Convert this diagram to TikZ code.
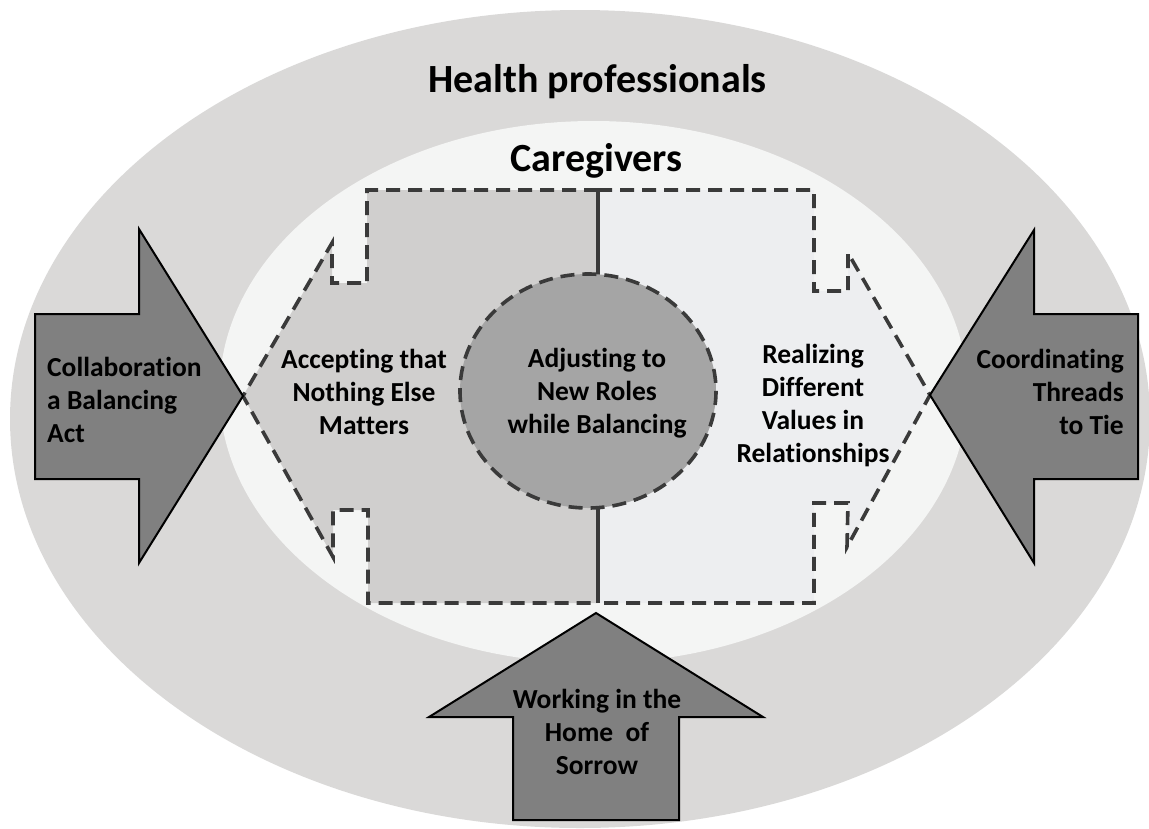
\documentclass[tikz,border=0pt]{standalone}
\usepackage{fontspec}
\setmainfont[Ligatures=NoCommon]{Carlito}
\definecolor{outerc}{HTML}{DAD9D8}
\definecolor{innerc}{HTML}{F4F5F4}
\definecolor{leftc}{HTML}{D0CFCE}
\definecolor{rightc}{HTML}{EDEEF0}
\definecolor{circc}{HTML}{A5A5A5}
\definecolor{arrowc}{HTML}{808080}
\definecolor{dashc}{HTML}{3A3A3A}
\begin{document}
\begin{tikzpicture}[x=1pt,y=-1pt,
  dashline/.style={draw=dashc, line width=3.6pt, dash pattern=on 14pt off 8pt},
  bigarrow/.style={fill=arrowc, draw=black, line width=2pt, line join=miter},
  lbl/.style={font=\bfseries\fontsize{27.5}{33}\selectfont, inner sep=0pt, text=black},
  ttl/.style={font=\bfseries\fontsize{40}{48}\selectfont, inner sep=0pt, text=black}]
\useasboundingbox (0,0) rectangle (1149,828);
\clip (0,0) rectangle (1149,828);
% rings
\fill[outerc] (580,419) ellipse [x radius=570, y radius=409];
\fill[innerc] (593.5,392) ellipse [x radius=374, y radius=271];
% left and right dashed shapes
\path[fill=leftc, dashline] (598,190) -- (367,190) -- (367,283) -- (332,283) -- (332,243)
  -- (243,396) -- (333,557) -- (333,510) -- (368,510) -- (368,603) -- (598,603) -- cycle;
\path[fill=rightc, dashline] (598,190) -- (814,190) -- (814,291) -- (848,291) -- (848,253)
  -- (930,395) -- (847,547) -- (848,503) -- (814,503) -- (814,603) -- (598,603) -- cycle;
\path[dashline, dash phase=11pt] (598,190) -- (598,603);
% centre circle
\path[fill=circc, dashline] (588,391) ellipse [x radius=128, y radius=117];
% big arrows
\path[bigarrow] (35,314) -- (139,314) -- (139,229) -- (243,396) -- (139,563) -- (139,479) -- (35,479) -- cycle;
\path[bigarrow] (1138,314) -- (1034,314) -- (1034,230) -- (930,395) -- (1034,563) -- (1034,479) -- (1138,479) -- cycle;
\path[bigarrow] (513,820) -- (513,717) -- (429,717) -- (596,613) -- (763,717) -- (679,717) -- (679,820) -- cycle;
% texts
\node[ttl, anchor=base] (hp) at (597.5,92) {Health professionals};
\node[ttl, anchor=base] (cg) at (596.5,171) {Caregivers};
\node[lbl, align=left, anchor=west] (collab) at (47,400) {Collaboration\\a Balancing\\Act};
\node[lbl, align=center] (accept) at (364,392) {Accepting that\\Nothing Else\\Matters};
\node[lbl, align=center] (adjust) at (597,393) {Adjusting to\\New Roles\\while Balancing};
\node[lbl, align=center] (realize) at (813,406) {Realizing\\Different\\Values in\\Relationships};
\node[lbl, align=right, anchor=east] (coord) at (1124,392) {Coordinating\\Threads\\to Tie};
\node[lbl, align=center] (work) at (597,732) {Working in the\\Home\ \ of\\Sorrow};
\end{tikzpicture}
\end{document}
